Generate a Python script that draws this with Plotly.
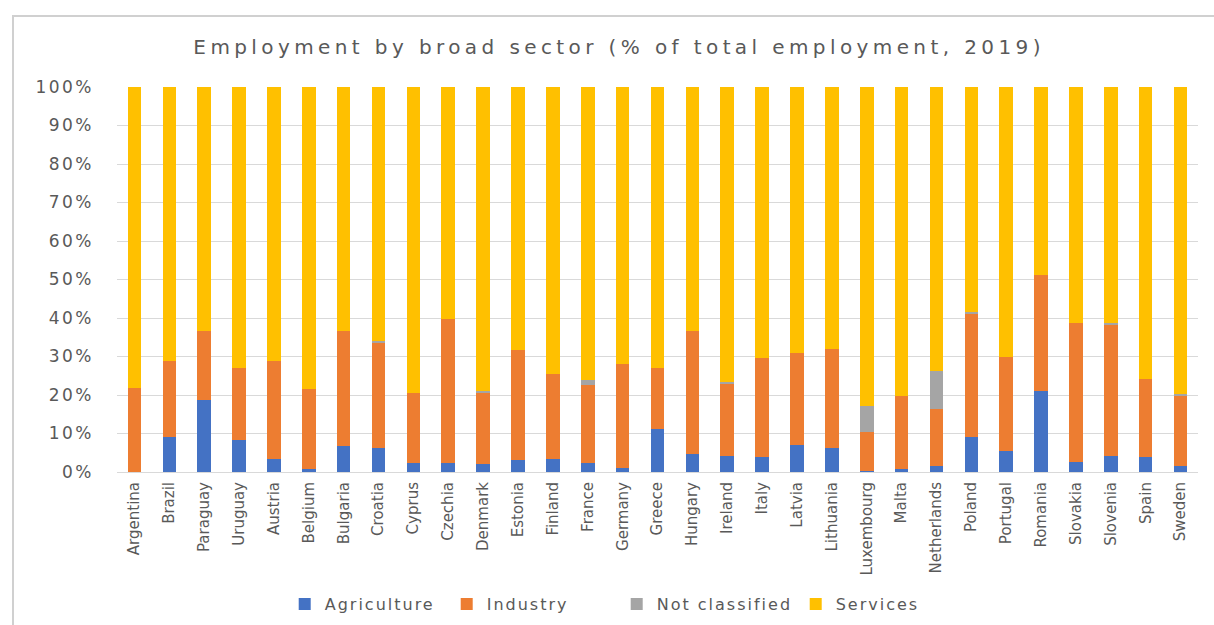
import plotly.graph_objects as go

# Employment shares by broad sector, 2019 (% of total employment)
countries = [
    "Argentina", "Brazil", "Paraguay", "Uruguay", "Austria", "Belgium",
    "Bulgaria", "Croatia", "Cyprus", "Czechia", "Denmark", "Estonia",
    "Finland", "France", "Germany", "Greece", "Hungary", "Ireland", "Italy",
    "Latvia", "Lithuania", "Luxembourg", "Malta", "Netherlands", "Poland",
    "Portugal", "Romania", "Slovakia", "Slovenia", "Spain", "Sweden",
]
agriculture = [
    0.0, 9.0, 18.7, 8.2, 3.5, 0.8, 6.7, 6.2, 2.3, 2.3, 2.0, 3.1, 3.5, 2.3,
    1.1, 11.3, 4.7, 4.2, 3.9, 7.0, 6.2, 0.3, 0.8, 1.6, 9.0, 5.5, 21.0, 2.7,
    4.2, 3.8, 1.6,
]
industry = [
    21.9, 19.9, 18.0, 18.7, 25.4, 20.7, 30.0, 27.4, 18.3, 37.5, 18.6, 28.5,
    21.9, 20.3, 27.0, 15.6, 32.0, 18.9, 25.8, 23.9, 25.8, 10.2, 19.0, 14.8,
    32.1, 24.5, 30.2, 36.0, 34.2, 20.4, 18.3,
]
not_classified = [
    0.0, 0.0, 0.0, 0.0, 0.0, 0.0, 0.0, 0.4, 0.0, 0.0, 0.5, 0.0, 0.0, 1.3,
    0.0, 0.0, 0.0, 0.4, 0.0, 0.0, 0.0, 6.6, 0.0, 9.8, 0.4, 0.0, 0.0, 0.0,
    0.3, 0.0, 0.4,
]
services = [
    78.1, 71.1, 63.3, 73.1, 71.1, 78.5, 63.3, 66.0, 79.4, 60.2, 78.9, 68.4,
    74.6, 76.1, 71.9, 73.1, 63.3, 76.5, 70.3, 69.1, 68.0, 82.9, 80.2, 73.8,
    58.5, 70.0, 48.8, 61.3, 61.3, 75.8, 79.7,
]

y_ticks = list(range(0, 101, 10))
y_tick_labels = [f"{v}%" for v in y_ticks]

# name, values, colour, legend entry width (px)
series = [
    ("Agriculture", agriculture, "#4472C4", 117),
    ("Industry", industry, "#ED7D31", 125),
    ("Not classified", not_classified, "#A5A5A5", 134),
    ("Services", services, "#FFC000", 125),
]

TEXT = "#595959"
GRID = "#D9D9D9"

fig = go.Figure()
for name, values, color, lw in series:
    fig.add_trace(go.Bar(
        x=countries, y=values, name=name,
        marker=dict(color=color, line=dict(width=0)),
        legendwidth=lw,
    ))

fig.update_layout(
    barmode="stack",
    bargap=0.61,
    width=1214, height=625,
    margin=dict(l=117, r=16, t=87, b=153),
    paper_bgcolor="white", plot_bgcolor="white",
    title=dict(
        text="Employment by broad sector (% of total employment, 2019)",
        font=dict(family="DejaVu Sans", size=20, color=TEXT),
        xref="container", x=0.51, xanchor="center",
        yref="container", y=1 - 47 / 625, yanchor="middle",
    ),
    legend=dict(
        orientation="h",
        xref="container", x=0.515, xanchor="center",
        yref="container", y=1 - 604 / 625, yanchor="middle",
        font=dict(family="DejaVu Sans", size=16, color=TEXT),
        itemwidth=30, traceorder="normal",
    ),
    xaxis=dict(
        tickangle=-90, automargin=False, showgrid=False,
        tickfont=dict(family="DejaVu Sans", size=15, color=TEXT),
        ticks="", showline=False, ticklabelstandoff=6,
    ),
    yaxis=dict(
        range=[0, 100], tickvals=y_ticks, ticktext=y_tick_labels,
        automargin=False, showgrid=True, gridcolor=GRID, gridwidth=1,
        zeroline=True, zerolinecolor=GRID, zerolinewidth=1,
        tickfont=dict(family="DejaVu Sans", size=17, color=TEXT),
        ticks="", showline=False, ticklabelstandoff=22,
    ),
    shapes=[
        # chart frame (top and left edges; the rest runs off the page)
        dict(type="path", xref="paper", yref="paper",
             path="M -0.0962,-0.6 L -0.0962,1.1844 L 1.2,1.1844",
             line=dict(color="#D0D0D0", width=2)),
    ],
)

spacing_js = """
var gd = document.getElementById('{plot_id}');
function spread(sel, v) {
  gd.querySelectorAll(sel).forEach(function (t) { t.style.letterSpacing = v; });
}
spread('.gtitle', '4.4px');
spread('.ytick text', '2.5px');
spread('.legendtext', '2px');
"""

fig.write_html("out.html", post_script=spacing_js)
